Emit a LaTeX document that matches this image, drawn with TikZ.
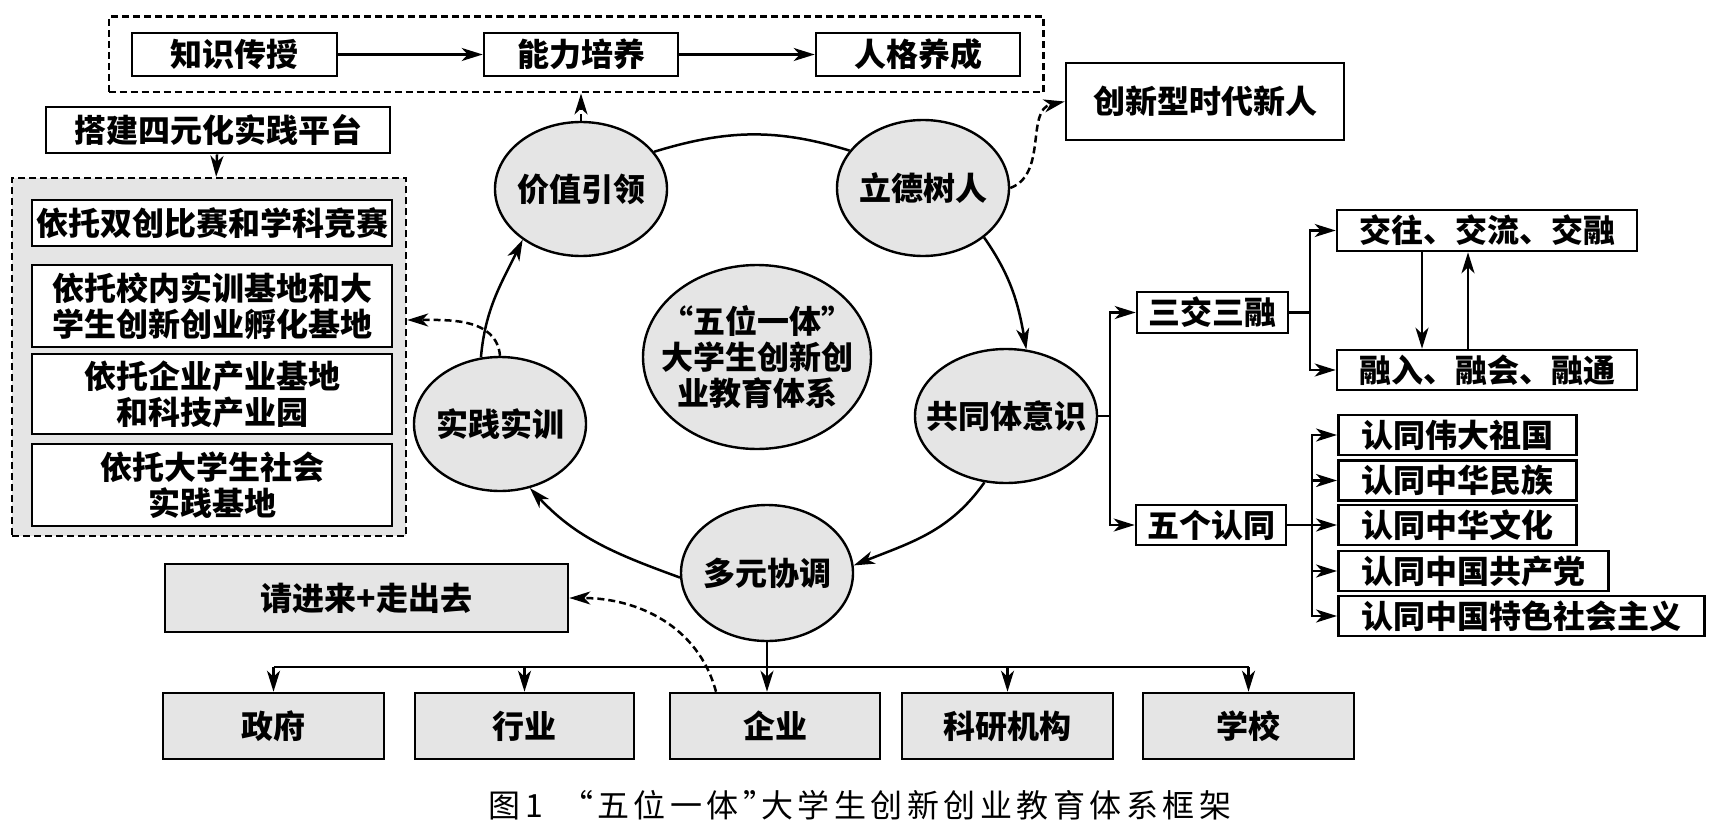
\documentclass[tikz,border=0pt]{standalone}
\usepackage{fontspec}
\setmainfont{Noto Sans CJK SC}
\newfontfamily\capfont[LetterSpace=14]{Noto Sans CJK SC}
\usetikzlibrary{shapes.geometric,arrows.meta,fit}
\definecolor{boxgrey}{RGB}{229,229,229}

\begin{document}
\begin{tikzpicture}[x=1pt,y=1pt,
  every node/.style={font=\fontsize{32}{36}\selectfont\bfseries},
  box/.style={draw,line width=2.6pt,inner sep=0pt,align=center},
  greybox/.style={box,fill=boxgrey},
  circ/.style={draw,ellipse,line width=2.4pt,fill=boxgrey,inner sep=0pt},
  dashframe/.style={draw,line width=2.4pt,dash pattern=on 7pt off 4pt},
  con/.style={line width=2.5pt},
  arr/.style={con,-{Stealth[length=21pt,width=13pt,inset=6pt]}},
  darr/.style={arr,dash pattern=on 7pt off 4pt}]
  \useasboundingbox (0,0) rectangle (1715,-824);

  \node[box,minimum width=205,minimum height=43] (zhishi) at (234.5,-54.5) {知识传授};
  \node[box,minimum width=194,minimum height=43] (nengli) at (581,-54.5) {能力培养};
  \node[box,minimum width=204,minimum height=43] (renge) at (918,-54.5) {人格养成};
  \node[dashframe,fit=(zhishi)(renge),inner xsep=22,inner ysep=15] (topframe) {};
  \draw[arr] (zhishi) -- (nengli);
  \draw[arr] (nengli) -- (renge);

  \node[box,minimum width=278,minimum height=77] (xinren) at (1205,-101.5) {创新型时代新人};

  \node[box,minimum width=344,minimum height=46] (dajian) at (218,-130) {搭建四元化实践平台};
  \node[dashframe,fill=boxgrey,minimum width=394,minimum height=358] (platform) at (209,-357) {};
  \node[box,fill=white,minimum width=360,minimum height=46] (yituo1) at (212,-223) {依托双创比赛和学科竞赛};
  \node[box,fill=white,minimum width=360,minimum height=82] (yituo2) at (212,-306) {依托校内实训基地和大\\学生创新创业孵化基地};
  \node[box,fill=white,minimum width=360,minimum height=80] (yituo3) at (212,-394) {依托企业产业基地\\和科技产业园};
  \node[box,fill=white,minimum width=360,minimum height=82] (yituo4) at (212,-485) {依托大学生社会\\实践基地};
  \draw[arr] (dajian) -- (platform);

  \node[circ,minimum width=172,minimum height=134,label=center:价值引领] (jiazhi) at (581,-189) {};
  \node[circ,minimum width=172,minimum height=136,label=center:立德树人] (lide) at (923,-188) {};
  \node[circ,minimum width=228,minimum height=184,
    label={[align=center]center:“五位一体”\\大学生创新创\\业教育体系}] (core) at (757,-357) {};
  \node[circ,minimum width=182,minimum height=134,label=center:共同体意识] (gongtong) at (1006,-416) {};
  \node[circ,minimum width=172,minimum height=136,label=center:多元协调] (duoyuan) at (767,-573) {};
  \node[circ,minimum width=172,minimum height=134,label=center:实践实训] (shijian) at (500,-424) {};

  \draw[con] (jiazhi.27) to[out=17,in=163] (lide.153);
  \draw[arr] (lide.-39) to[out=-55,in=100] (gongtong.73);
  \draw[arr] (gongtong.-108) to[out=-125,in=22] (duoyuan.5);
  \draw[arr] (duoyuan.183) to[out=160,in=-47] (shijian.-65);
  \draw[arr] (shijian.106) to[out=85,in=-116] (jiazhi.-139);

  \draw[darr] (jiazhi.north) -- (jiazhi.north |- topframe.south);
  \draw[darr] (lide.east) to[out=20,in=192] (xinren.west);
  \draw[darr] (shijian.north) to[out=95,in=0] ([yshift=37]platform.east);

  \node[box,minimum width=151,minimum height=41] (sanjiao) at (1212.5,-312.5) {三交三融};
  \node[box,minimum width=150,minimum height=40] (wuge) at (1211,-525) {五个认同};
  \node[box,minimum width=300,minimum height=41] (jiaowang) at (1487,-230.5) {交往、交流、交融};
  \node[box,minimum width=300,minimum height=40] (rongru) at (1487,-370) {融入、融会、融通};
  \node[box,inner xsep=23,minimum height=40,anchor=west] (rt1) at (1337,-435) {认同伟大祖国};
  \node[box,inner xsep=23,minimum height=40,anchor=west] (rt2) at (1337,-480.5) {认同中华民族};
  \node[box,inner xsep=23,minimum height=40,anchor=west] (rt3) at (1337,-525) {认同中华文化};
  \node[box,inner xsep=23,minimum height=40,anchor=west] (rt4) at (1337,-571) {认同中国共产党};
  \node[box,inner xsep=23,minimum height=40,anchor=west] (rt5) at (1337,-616) {认同中国特色社会主义};

  \coordinate (fork1) at (1110,-416);
  \coordinate (fork2) at (1310,-312.5);
  \coordinate (fork3) at (1312,-525);
  \draw[con] (gongtong.east) -- (fork1);
  \draw[arr] (fork1) |- (sanjiao.west);
  \draw[arr] (fork1) |- (wuge.west);
  \draw[con] (sanjiao.east) -- (fork2);
  \draw[arr] (fork2) |- (jiaowang.west);
  \draw[arr] (fork2) |- (rongru.west);
  \draw[arr] ([xshift=-65]jiaowang.south) -- ([xshift=-65]rongru.north);
  \draw[arr] ([xshift=-19]rongru.north) -- ([xshift=-19]jiaowang.south);
  \draw[con] (wuge.east) -- (fork3);
  \foreach \n in {rt1,rt2,rt3,rt4,rt5}
    \draw[arr] (fork3) |- (\n.west);

  \node[greybox,minimum width=403,minimum height=68] (qingjin) at (366.5,-598) {请进来+走出去};
  \node[greybox,minimum width=221,minimum height=66] (zhengfu) at (273.5,-726) {政府};
  \node[greybox,minimum width=219,minimum height=66] (hangye) at (524.5,-726) {行业};
  \node[greybox,minimum width=210,minimum height=66] (qiye) at (775,-726) {企业};
  \node[greybox,minimum width=211,minimum height=66] (keyan) at (1007.5,-726) {科研机构};
  \node[greybox,minimum width=211,minimum height=66] (xuexiao) at (1248.5,-726) {学校};

  \coordinate (bus) at (767,-667);
  \draw[arr] (duoyuan.south) -- (duoyuan.south |- qiye.north);
  \draw[con] (zhengfu.north |- bus) -- (xuexiao.north |- bus);
  \foreach \n in {zhengfu,hangye,keyan,xuexiao}
    \draw[arr] (\n.north |- bus) -- (\n.north);
  \draw[darr] ([xshift=-59]qiye.north) to[out=105,in=0] (qingjin.east);

  \node[font=\capfont\fontsize{32}{36}\selectfont] (caption) at (860,-805)
    {图1\quad\kern-14pt“五位一体”\kern-14pt大学生创新创业教育体系框架};
\end{tikzpicture}
\end{document}
